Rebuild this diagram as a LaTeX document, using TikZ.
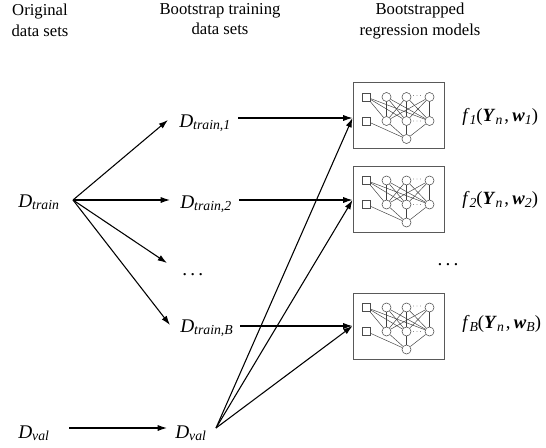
\documentclass[tikz,border=0pt]{standalone}
\usepackage{fontspec}
\setmainfont{Liberation Serif}
\usetikzlibrary{arrows.meta}
\newcommand{\sbs}[1]{\raisebox{-0.3ex}{\fontsize{10.3}{12}\selectfont\itshape #1}}
\newcommand{\mfont}{\fontsize{14.5}{17}\selectfont}
\newcommand{\flab}[1]{\textit{f}\sbs{#1}(\textbf{\textit{Y}}\sbs{n}\kern1.5pt,\kern2.5pt\textbf{\textit{w}}\sbs{#1})}
\tikzset{
  nnet/.pic={
    \node[nnsq] (-s1) at (-32,-18.5) {};
    \node[nnsq] (-s2) at (-32,5.5) {};
    \node[nnci] (-a1) at (-12,-18.5) {};
    \node[nnci] (-a2) at (8,-18.5) {};
    \node[nnci] (-a3) at (31,-18.5) {};
    \node[nnci] (-b1) at (-12,5.5) {};
    \node[nnci] (-b2) at (8,5.5) {};
    \node[nnci] (-b3) at (31,5.5) {};
    \node[nnci] (-o) at (8,23.5) {};
    \foreach \i in {1,2,3}{\draw[nn] (-s1) -- (-b\i);}
    \foreach \i in {1,2,3}{\foreach \j in {1,2,3}{\draw[nn] (-a\i) -- (-b\j);}}
    \foreach \i in {1,2,3}{\draw[nn] (-b\i) -- (-o);}
    \draw[nn] (-s2) -- (-o);
    \foreach \xx in {15,18.5,22}{
      \fill[black!70] (\xx,-20) circle (0.35pt);
      \fill[black!70] (\xx,5.5) circle (0.35pt);
    }
  }
}
\begin{document}
\begin{tikzpicture}[x=0.75pt,y=-0.75pt,
  arr/.style={line width=0.8pt,-{Latex[length=7pt,width=4.6pt]}},
  lbl/.style={inner sep=0pt,anchor=base west,font=\mfont},
  flbl/.style={inner sep=0pt,anchor=west,font=\fontsize{14}{17}\selectfont},
  hdr/.style={align=center,font=\fontsize{12.5}{15.5}\selectfont},
  mbox/.style={draw=gray!70!black,line width=0.7pt,minimum width=68.25pt,minimum height=49.5pt,inner sep=0pt},
  nn/.style={line width=0.35pt,draw=black!75},
  nnsq/.style={draw=black!70,fill=white,line width=0.4pt,minimum size=6.3pt,inner sep=0pt},
  nnci/.style={circle,draw=black!70,fill=white,line width=0.4pt,minimum size=6.8pt,inner sep=0pt}]

\useasboundingbox (0,0) rectangle (546,447);

% headers
\node[hdr] (h1) at (40,20) {Original\\data sets};
\node[hdr] (h2) at (220,19) {Bootstrap training\\data sets};
\node[hdr] (h3) at (420,21) {Bootstrapped\\regression models};

% data set labels
\node[lbl] (dtrain) at (18,207) {\textit{D}\sbs{train}};
\node[lbl] (dtr1) at (179,127) {\textit{D}\sbs{train,1}};
\node[lbl] (dtr2) at (180,208) {\textit{D}\sbs{train,2}};
\node[lbl] (dots) at (182,275) {.\,.\,.};
\node[lbl] (dtrB) at (180,332) {\textit{D}\sbs{train,B}};
\node[lbl] (dval0) at (18,438) {\textit{D}\sbs{val}};
\node[lbl] (dval) at (175,438) {\textit{D}\sbs{val}};

% model boxes
\node[mbox] (box1) at (398.5,115.5) {};
\node[mbox] (box2) at (398.5,199) {};
\node[mbox] (boxB) at (398.5,326) {};
\pic (n1) at (box1.center) {nnet};
\pic (n2) at (box2.center) {nnet};
\pic (nB) at (boxB.center) {nnet};

% model labels
\node[flbl] (f1) at (462,117) {\flab{1}};
\node[flbl] (f2) at (462,200) {\flab{2}};
\node[lbl,anchor=base] (rdots) at (448,265) {.\,.\,.};
\node[flbl] (fB) at (462,324) {\flab{B}};

% coordinates
\coordinate (trO) at ([shift={(55,-7)}]dtrain.base west);
\coordinate (valO) at ([shift={(41,-10)}]dval.base west);
\coordinate (o1) at ([shift={(59,-9)}]dtr1.base west);
\coordinate (o2) at ([shift={(59,-8)}]dtr2.base west);
\coordinate (oB) at ([shift={(60,-6)}]dtrB.base west);
\coordinate (in1) at (o1 -| box1.west);
\coordinate (in2) at (o2 -| box2.west);
\coordinate (inB) at (oB -| boxB.west);

% fan from D_train
\draw[arr] (trO) -- ([shift={(-11,-7)}]dtr1.base west);
\draw[arr] (trO) -- ([shift={(-10,-8)}]dtr2.base west);
\draw[arr] (trO) -- ([shift={(-15,-12)}]dots.base west);
\draw[arr] (trO) -- ([shift={(-10,-7)}]dtrB.base west);

% to models
\draw[arr] (o1) -- (in1);
\draw[arr] (o2) -- (in2);
\draw[arr] (oB) -- (inB);

% validation
\draw[arr] ([shift={(51,-10)}]dval0.base west) -- ([shift={(-8,-10)}]dval.base west);
\draw[arr] (valO) -- (in1);
\draw[arr] (valO) -- (in2);
\draw[arr] (valO) -- (inB);
\end{tikzpicture}
\end{document}
